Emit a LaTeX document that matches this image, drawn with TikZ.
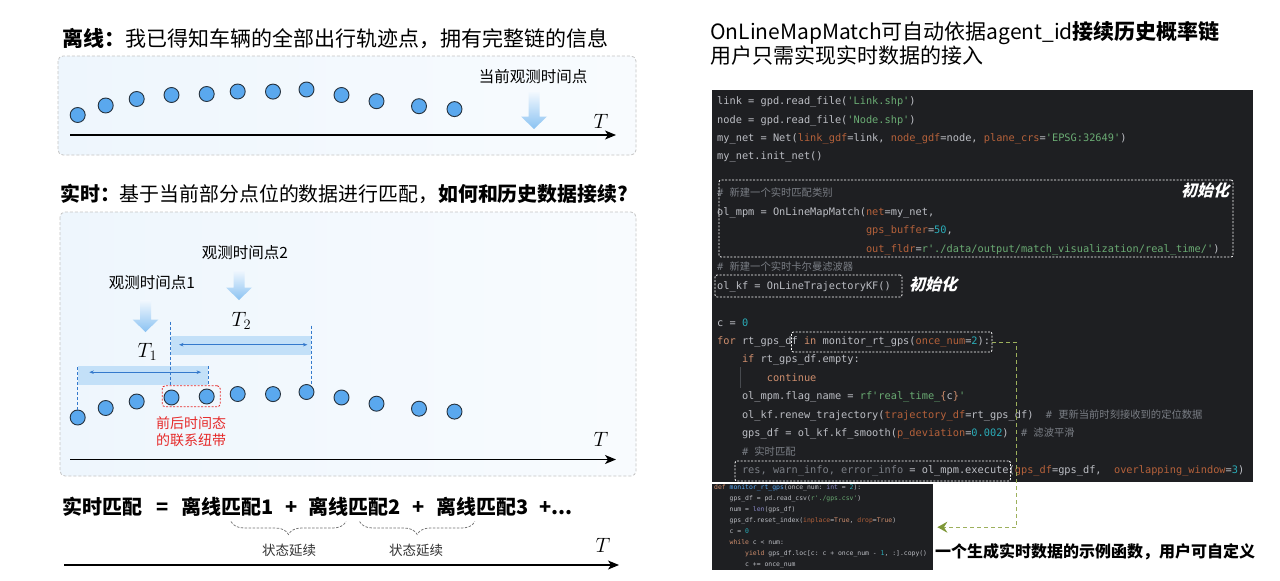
\documentclass[tikz,border=0pt]{standalone}
\usepackage[no-math]{fontspec}
\setmainfont{Noto Sans CJK SC}
\setmonofont{DejaVu Sans Mono}
\newfontfamily\cjk{Noto Sans CJK SC}
\newfontfamily\slantcjk{Noto Sans CJK SC}[FakeSlant=0.25]
\usetikzlibrary{arrows.meta,positioning,decorations.pathreplacing}

\definecolor{dotblue}{HTML}{5AA8EE}
\definecolor{dotedge}{HTML}{26323E}
\definecolor{panelgray}{HTML}{C4C4C4}
\definecolor{panelblue}{HTML}{EEF6FD}
\definecolor{arrowtop}{HTML}{F2F8FE}
\definecolor{arrowblue}{HTML}{8AC2F2}
\definecolor{bandblue}{HTML}{C3E0F8}
\definecolor{bandline}{HTML}{3479CC}
\definecolor{tiered}{HTML}{E62A2A}
\definecolor{codebg}{HTML}{1E1F22}
\definecolor{codefg}{HTML}{BCBEC4}
\definecolor{codekw}{HTML}{CF8E6D}
\definecolor{codestr}{HTML}{6AAB73}
\definecolor{codenum}{HTML}{2AACB8}
\definecolor{codearg}{HTML}{B5613A}
\definecolor{codecmt}{HTML}{7A7E85}
\definecolor{codefn}{HTML}{56A8F5}
\definecolor{codebi}{HTML}{8888C6}
\definecolor{feedgreen}{HTML}{9DB05C}
\definecolor{feedtip}{HTML}{7F9838}

% code colouring
\newcommand\ckw[1]{\textcolor{codekw}{#1}}
\newcommand\cstr[1]{\textcolor{codestr}{#1}}
\newcommand\cnum[1]{\textcolor{codenum}{#1}}
\newcommand\carg[1]{\textcolor{codearg}{#1}}
\newcommand\ccm[1]{\textcolor{codecmt}{#1}}
\newcommand\cfn[1]{\textcolor{codefn}{#1}}
\newcommand\cbi[1]{\textcolor{codebi}{#1}}
\newcommand\zh[1]{{\cjk #1}}
\newcommand\ind[1]{\hspace*{#1\dimexpr0.602em\relax}}
% observation arrow: x, top, length
\newcommand{\obsarrow}[3]{%
  \shade[top color=arrowtop, bottom color=arrowblue]
    (#1-5.5,#2) -- (#1+5.5,#2) -- (#1+5.5,#2+#3-12.5) -- (#1+13,#2+#3-12.5)
    -- (#1,#2+#3) -- (#1-13,#2+#3-12.5) -- (#1-5.5,#2+#3-12.5) -- cycle;}

\begin{document}
\begin{tikzpicture}[
  x=1pt, y=-1pt,
  dot/.style={circle, draw=dotedge, fill=dotblue, line width=0.9pt,
              minimum size=15pt, inner sep=0pt},
  panel/.style={draw=panelgray, dash pattern=on 3pt off 2pt, line width=0.8pt,
                rounded corners=5pt, left color=panelblue, right color=white!60!panelblue},
  axis/.style={-{Stealth[length=11pt,width=9pt,inset=3pt]}, line width=1.2pt},
  heading/.style={font=\fontsize{21}{25}\selectfont, inner sep=0pt, anchor=base west},
  obslbl/.style={font=\fontsize{15.5}{18}\selectfont, inner sep=0pt, anchor=base},
  tlbl/.style={font=\fontsize{20.74}{25}\selectfont, inner sep=0pt},
  band/.style={fill=bandblue, inner sep=0pt, anchor=north west},
  spanarr/.style={{Stealth[length=4.5pt,width=3.5pt]}-{Stealth[length=4.5pt,width=3.5pt]},
                  draw=bandline, line width=0.7pt},
  guide/.style={draw=bandline, dash pattern=on 3pt off 2pt, line width=0.7pt},
  tie/.style={draw=tiered, dash pattern=on 2pt off 1.5pt, line width=0.8pt,
              rounded corners=3pt, inner sep=0pt},
  tielbl/.style={text=tiered, font=\fontsize{14}{16.7}\selectfont, align=center, inner sep=0pt},
  eqtxt/.style={font=\bfseries\fontsize{20}{24}\selectfont, inner sep=0pt, anchor=base west},
  contbrace/.style={decorate, decoration={brace, mirror, amplitude=13pt}, draw=black!55,
                    dash pattern=on 2.5pt off 1.5pt, line width=0.75pt},
  keeplbl/.style={font=\fontsize{13.5}{16}\selectfont, text=black!80, inner sep=0pt},
  codebox/.style={fill=codebg, inner sep=0pt, anchor=north west},
  codeln/.style={font=\ttfamily\fontsize{10.3}{12}\selectfont, text=codefg, inner sep=0pt, anchor=base west},
  smallcode/.style={font=\ttfamily\fontsize{6.43}{8}\selectfont, text=codefg, inner sep=0pt, anchor=base west},
  hlbox/.style={draw=white, dash pattern=on 2pt off 1.5pt, line width=0.8pt,
                rounded corners=2pt, inner sep=0pt},
  initlbl/.style={text=white, font=\slantcjk\bfseries\fontsize{16}{19}\selectfont, inner sep=0pt},
  feed/.style={draw=feedgreen, dash pattern=on 4pt off 3pt, line width=1pt,
               -{Stealth[length=10pt,width=11pt,inset=3.5pt,color=feedtip]}},
]
  \useasboundingbox (0,0) rectangle (1280,581);
  \fill[white] (0,0) rectangle (1280,581);

  % offline panel
  \node[heading] (offhead) at (62,46) {\textbf{离线：}我已得知车辆的全部出行轨迹点，拥有完整链的信息};
  \draw[panel] (58,56) rectangle (636,155);
  \node[obslbl] (nowlbl) at (533,82.5) {当前观测时间点};
  \obsarrow{534}{92}{37}

  % realtime panel
  \node[heading, font=\fontsize{19.9}{24}\selectfont] (rthead) at (60,201.6)
    {\textbf{实时：}基于当前部分点位的数据进行匹配，\textbf{如何和历史数据接续?}};
  \draw[panel] (60,212) rectangle (636,476);
  \node[obslbl] (obs2) at (245,258) {观测时间点2};
  \obsarrow{239}{270}{30}
  \node[obslbl] (obs1) at (152,288) {观测时间点1};
  \obsarrow{145.5}{300}{32}

  \node[band, minimum width=140, minimum height=19.5] (b2) at (170.5,335.5) {};
  \node[band, minimum width=130, minimum height=19] (b1) at (77.7,366) {};
  \draw[spanarr] ([xshift=8.5pt,yshift=0.75pt]b2.west) -- ([xshift=-3.5pt,yshift=0.75pt]b2.east);
  \draw[spanarr] ([xshift=11.6pt,yshift=3.5pt]b1.west) -- ([xshift=-7pt,yshift=3.5pt]b1.east);
  \node[tlbl, anchor=base west] (t2) at (231.5,326.5) {$T_2$};
  \node[tlbl, anchor=base west] (t1) at (137.5,357) {$T_1$};

  % trajectory points
  \foreach \x/\dy [count=\i] in {77.7/0, 105.7/-9.5, 136.7/-16, 171.5/-20, 206.7/-21,
      237.7/-23.5, 273/-23.4, 306.5/-25.5, 341.5/-20, 376.5/-13.8, 419/-8.8, 454.5/-5.9} {
    \node[dot] (p\i) at (\x,115+\dy) {};
    \node[dot] (q\i) at (\x,417.5+\dy) {};
  }
  \node[tie, minimum width=58, minimum height=21] (tie) at (191.2,396.3) {};
  \node[tielbl, below=9.5pt of tie] (tietxt) {前后时间态\\的联系纽带};

  \draw[guide] (q1.north) -- (q1.north |- b1.north);
  \draw[guide] (b1.north east) -- (b1.south east);
  \draw[guide] ([yshift=14pt]b2.north west) -- (tie.north -| b2.west);
  \draw[guide] ([yshift=10pt]b2.north east) -- (q8.north -| b2.east);

  \draw[axis] (70,135) -- (616,135);
  \node[tlbl] (ta) at (601,121) {$T$};
  \draw[axis] (70,459.5) -- (616,459.5);
  \node[tlbl] (tb) at (601,439) {$T$};

  % realtime = sum of offline matches
  \node[eqtxt] (eqL) at (62,514.6) {实时匹配};
  \node[eqtxt, anchor=base] (eqS) at (163,514.6) {=};
  \node[eqtxt] (eqA) at (181,514.6) {离线匹配1};
  \node[eqtxt, anchor=base] (plA) at (292,514.6) {+};
  \node[eqtxt] (eqB) at (308.5,514.6) {离线匹配2};
  \node[eqtxt, anchor=base] (plB) at (418.4,514.6) {+};
  \node[eqtxt] (eqC) at (436.4,514.6) {离线匹配3};
  \node[eqtxt] (plC) at (539,514.6) {+...};
  \draw[contbrace] (231,521.5) -- (346,521.5);
  \draw[contbrace] (359.6,521.5) -- (474.8,521.5);
  \node[keeplbl] (keep1) at (289,550) {状态延续};
  \node[keeplbl] (keep2) at (416,550) {状态延续};
  \draw[axis] (64,565) -- (619,565);
  \node[tlbl] (tc) at (603,545.5) {$T$};

  % right side
  \node[heading] (rtitle) at (710,39.8)
    {OnLineMapMatch可自动依据agent\_id\textbf{接续历史概率链}};
  \node[heading] (rsub) at (710,63.8) {用户只需实现实时数据的接入};

  \node[codebox, minimum width=541, minimum height=392] (mainc) at (712,90) {};
  \node[codebox, minimum width=221, minimum height=86] (gencode) at (712,484) {};

  \foreach \ln [count=\i from 0] in {
    {link = gpd.read\_file(\cstr{'Link.shp'})},
    {node = gpd.read\_file(\cstr{'Node.shp'})},
    {my\_net = Net(\carg{link\_gdf}=link, \carg{node\_gdf}=node, \carg{plane\_crs}=\cstr{'EPSG:32649'})},
    {my\_net.init\_net()},
    {},
    {\ccm{\#\ \zh{新建一个实时匹配类别}}},
    {ol\_mpm = OnLineMapMatch(\carg{net}=my\_net,},
    {\ind{24}\carg{gps\_buffer}=\cnum{50},},
    {\ind{24}\carg{out\_fldr}=\cstr{r'./data/output/match\_visualization/real\_time/'})},
    {\ccm{\#\ \zh{新建一个实时卡尔曼滤波器}}},
    {ol\_kf = OnLineTrajectoryKF()},
    {},
    {c = \cnum{0}},
    {\ckw{for} rt\_gps\_df \ckw{in} monitor\_rt\_gps(\carg{once\_num}=\cnum{2}):},
    {\ind{4}\ckw{if} rt\_gps\_df.empty:},
    {\ind{8}\ckw{continue}},
    {\ind{4}ol\_mpm.flag\_name = \cstr{rf'real\_time\_}\ckw{\{}c\ckw{\}}\cstr{'}},
    {\ind{4}ol\_kf.renew\_trajectory(\carg{trajectory\_df}=rt\_gps\_df)\ind{2}\ccm{\#\ \zh{更新当前时刻接收到的定位数据}}},
    {\ind{4}gps\_df = ol\_kf.kf\_smooth(\carg{p\_deviation}=\cnum{0.002})\ind{2}\ccm{\#\ \zh{滤波平滑}}},
    {\ind{4}\ccm{\#\ \zh{实时匹配}}},
    {\ind{4}\ccm{res, warn\_info, error\_info} = ol\_mpm.execute(\carg{gps\_df}=gps\_df,\ind{2}\carg{overlapping\_window}=\cnum{3})}
  } {
    \node[codeln] (cl\i) at (717,104.6+18.45*\i) {\ln};
  }
  \draw[codecmt!45!codebg, line width=0.6pt] (740.5,367) -- (740.5,388);

  \foreach \ln [count=\i from 0] in {
    {\ckw{def} \cfn{monitor\_rt\_gps}(once\_num: \cbi{int} = \cnum{2}):},
    {\ind{4}gps\_df = pd.read\_csv(\cstr{r'./gps.csv'})},
    {\ind{4}num = \cbi{len}(gps\_df)},
    {\ind{4}gps\_df.reset\_index(\carg{inplace}=\ckw{True}, \carg{drop}=\ckw{True})},
    {\ind{4}c = \cnum{0}},
    {\ind{4}\ckw{while} c < num:},
    {\ind{8}\ckw{yield} gps\_df.loc[c: c + once\_num - \cnum{1}, :].copy()},
    {\ind{8}c += once\_num}
  } {
    \node[smallcode] (gl\i) at (714,489.6+10.95*\i) {\ln};
  }

  \node[hlbox, minimum width=514, minimum height=77] (initA) at (976,218.5) {};
  \node[initlbl] (initAlbl) at (1205,190) {初始化};
  \node[hlbox, minimum width=187, minimum height=22] (initB) at (808.5,286) {};
  \node[initlbl] (initBlbl) at (933,284) {初始化};
  \node[hlbox, minimum width=200.5, minimum height=20] (forbox) at (891.75,342) {};
  \node[hlbox, minimum width=275.5, minimum height=20] (execbox) at (872.75,471) {};

  \draw[feed] (forbox.east) -- ++(24,0) |- ([xshift=4pt]gencode.east);
  \node[font=\bfseries\fontsize{16}{19}\selectfont, inner sep=0pt, anchor=base west] (genlbl)
    at (935,557) {一个生成实时数据的示例函数，用户可自定义};
\end{tikzpicture}
\end{document}
